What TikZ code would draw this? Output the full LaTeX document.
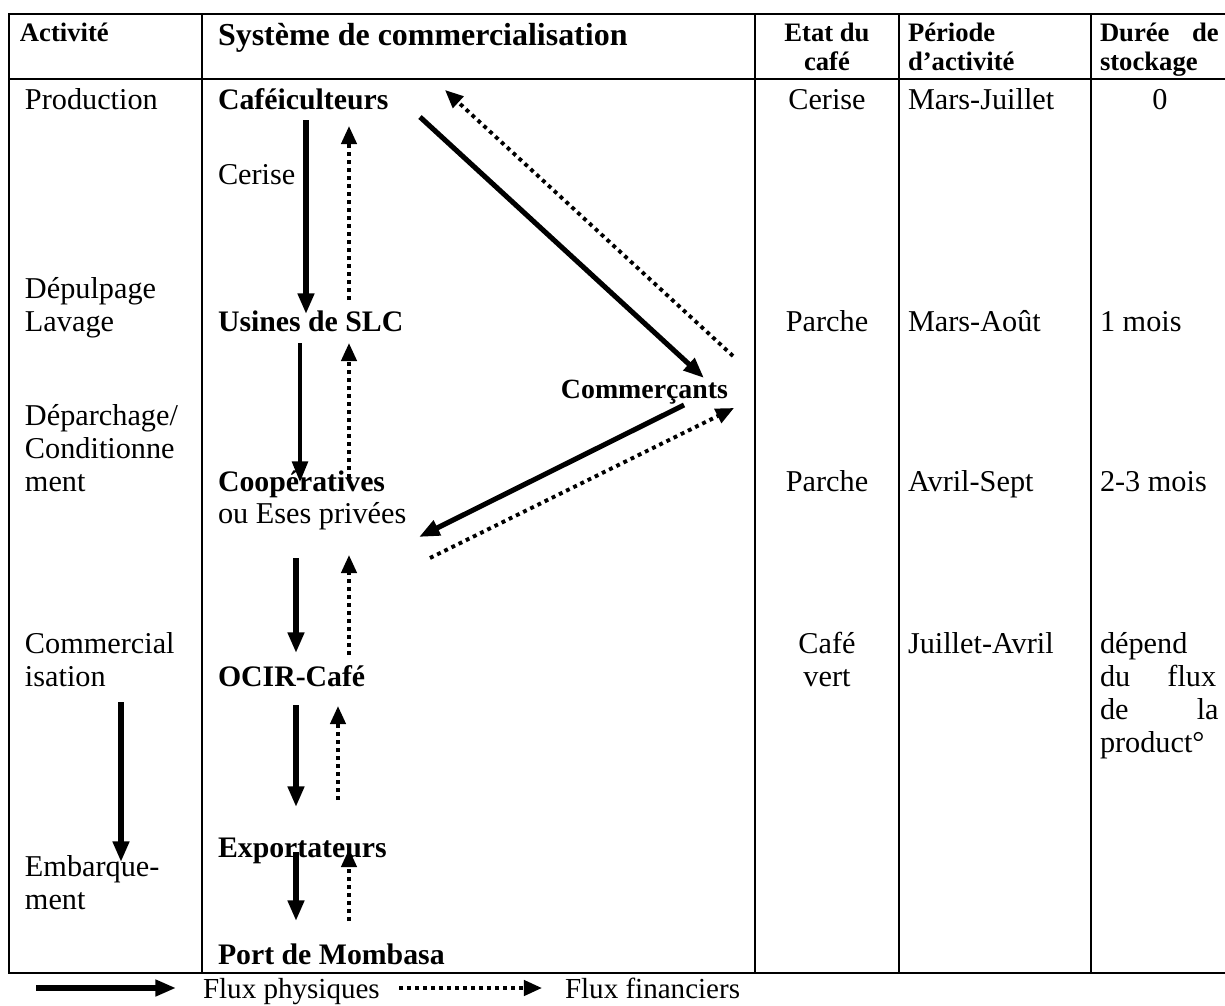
\documentclass[tikz,border=0pt]{standalone}
\usepackage{fontspec}
\setmainfont{Liberation Serif}
\usetikzlibrary{arrows.meta}
\begin{document}
\begin{tikzpicture}[x=0.413pt,y=-0.413pt,
  every node/.style={inner sep=0pt, outer sep=0pt},
  txt/.style={anchor=base west, font=\fontsize{12.5}{14}\selectfont},
  txtc/.style={anchor=base, font=\fontsize{12.5}{14}\selectfont},
  actor/.style={anchor=base west, font=\fontsize{12.3}{14}\selectfont\bfseries},
  head/.style={anchor=base west, font=\fontsize{11}{12}\selectfont\bfseries},
  headc/.style={anchor=base, font=\fontsize{11}{12}\selectfont\bfseries},
  legend/.style={anchor=base west, font=\fontsize{12}{13}\selectfont},
  rule/.style={line width=0.85pt},
  phys/.style={line width=2.1pt, -{Triangle[length=8.5pt,width=6.5pt]}},
  physthin/.style={line width=1.4pt, -{Triangle[length=8.5pt,width=6.5pt]}},
  fin/.style={line width=1.6pt, dash pattern=on 1.6pt off 1.7pt,
              -{Triangle[length=7.5pt,width=6.3pt]}}]
\useasboundingbox (0,0) rectangle (1225,1006);

% table frame and column rules
\draw[rule] (1225,14) -- (9,14) -- (9,973) -- (1225,973);
\draw[rule] (9,79) -- (1225,79);
\foreach \cx in {202,755,899,1091} \draw[rule] (\cx,14) -- (\cx,973);

% header row
\node[head] (hAct) at (20,42) {Activité};
\node[anchor=base west, font=\fontsize{13.2}{14}\selectfont\bfseries] (hSys) at (218,45) {Système de commercialisation};
\node[headc] (hEtat1) at (827,42) {Etat du};
\node[headc] (hEtat2) at (827,70) {café};
\node[head] (hPer1) at (908,42) {Période};
\node[head] (hPer2) at (908,70) {d’activité};
\node[head] (hDur1) at (1100,42) {\makebox[49pt][s]{Durée\hfill de}};
\node[head] (hDur2) at (1100,70) {stockage};

% activity column
\node[txt] (aProd) at (25,109) {Production};
\node[txt] (aDep1) at (25,298) {Dépulpage};
\node[txt] (aDep2) at (25,331) {Lavage};
\node[txt] (aCon1) at (25,425) {Déparchage/};
\node[txt] (aCon2) at (25,458) {Conditionne};
\node[txt] (aCon3) at (25,491) {ment};
\node[txt] (aCom1) at (25,653) {Commercial};
\node[txt] (aCom2) at (25,686) {isation};
\node[txt] (aEmb1) at (25,876) {Embarque-};
\node[txt] (aEmb2) at (25,909) {ment};

% marketing chain
\node[actor] (caf) at (218,109) {Caféiculteurs};
\node[txt] (cer) at (218,184) {Cerise};
\node[actor] (usi) at (218,331) {Usines de SLC};
\node[anchor=base east, font=\fontsize{11.5}{12}\selectfont\bfseries] (com) at (728,398) {Commerçants};
\node[actor] (coo) at (218,491) {Coopératives};
\node[txt] (coo2) at (218,523) {ou Eses privées};
\node[actor] (oci) at (218,686) {OCIR-Café};
\node[actor] (exp) at (218,857) {Exportateurs};
\node[actor] (mom) at (218,964) {Port de Mombasa};

% state of the coffee
\node[txtc] (e1) at (827,109) {Cerise};
\node[txtc] (e2) at (827,331) {Parche};
\node[txtc] (e3) at (827,491) {Parche};
\node[txtc] (e4) at (827,653) {Café};
\node[txtc] (e5) at (827,686) {vert};

% period of activity
\node[txt] (p1) at (908,109) {Mars-Juillet};
\node[txt] (p2) at (908,331) {Mars-Août};
\node[txt] (p3) at (908,491) {Avril-Sept};
\node[txt] (p4) at (908,653) {Juillet-Avril};

% storage time
\node[txtc] (s1) at (1160,109) {0};
\node[txt] (s2) at (1100,331) {1 mois};
\node[txt] (s3) at (1100,491) {2-3 mois};
\node[txt] (s4a) at (1100,653) {dépend};
\node[txt] (s4b) at (1100,686) {\makebox[48pt][s]{du\hfill flux}};
\node[txt] (s4c) at (1100,719) {\makebox[49pt][s]{de\hfill la}};
\node[txt] (s4d) at (1100,752) {product°};

% arrow end points
\coordinate (cafD) at (306,120);  \coordinate (usiU) at (306,314);
\coordinate (usiF) at (349,300);  \coordinate (cafF) at (349,126);
\coordinate (usiD) at (300,343);  \coordinate (cooU) at (300,482);
\coordinate (cooF) at (349,478);  \coordinate (usiF2) at (349,343);
\coordinate (cooD) at (296,558);  \coordinate (ociU) at (296,653);
\coordinate (ociF) at (349,655);  \coordinate (cooF2) at (349,555);
\coordinate (ociD) at (296,705);  \coordinate (expU) at (296,807);
\coordinate (expF) at (338,800);  \coordinate (ociF2) at (338,706);
\coordinate (expD) at (296,852);  \coordinate (momU) at (296,921);
\coordinate (momF) at (349,921);  \coordinate (expF2) at (349,849);
\coordinate (cafR) at (420,117);  \coordinate (comL) at (704,378);
\coordinate (comF) at (733,356);  \coordinate (cafF2) at (445,90);
\coordinate (comD) at (684,405);  \coordinate (cooR) at (419,537);
\coordinate (cooF3) at (430,558); \coordinate (comF2) at (734,408);
\coordinate (actA) at (121,702);  \coordinate (actB) at (121,862);

% physical flows
\draw[phys] (cafD) -- (usiU);
\draw[physthin] (usiD) -- (cooU);
\draw[phys] (cooD) -- (ociU);
\draw[phys] (ociD) -- (expU);
\draw[phys] (expD) -- (momU);
\draw[phys] (cafR) -- (comL);
\draw[phys] (comD) -- (cooR);
\draw[phys] (actA) -- (actB);

% financial flows
\draw[fin] (usiF) -- (cafF);
\draw[fin] (cooF) -- (usiF2);
\draw[fin] (ociF) -- (cooF2);
\draw[fin] (expF) -- (ociF2);
\draw[fin] (momF) -- (expF2);
\draw[fin] (comF) -- (cafF2);
\draw[fin] (cooF3) -- (comF2);

% legend
\coordinate (lgA) at (36,988);  \coordinate (lgB) at (176,988);
\coordinate (lgC) at (399,988); \coordinate (lgD) at (542,988);
\draw[phys] (lgA) -- (lgB);
\node[legend] (lgPhys) at (203,998) {Flux physiques};
\draw[fin] (lgC) -- (lgD);
\node[legend] (lgFin) at (565,998) {Flux financiers};
\end{tikzpicture}
\end{document}
